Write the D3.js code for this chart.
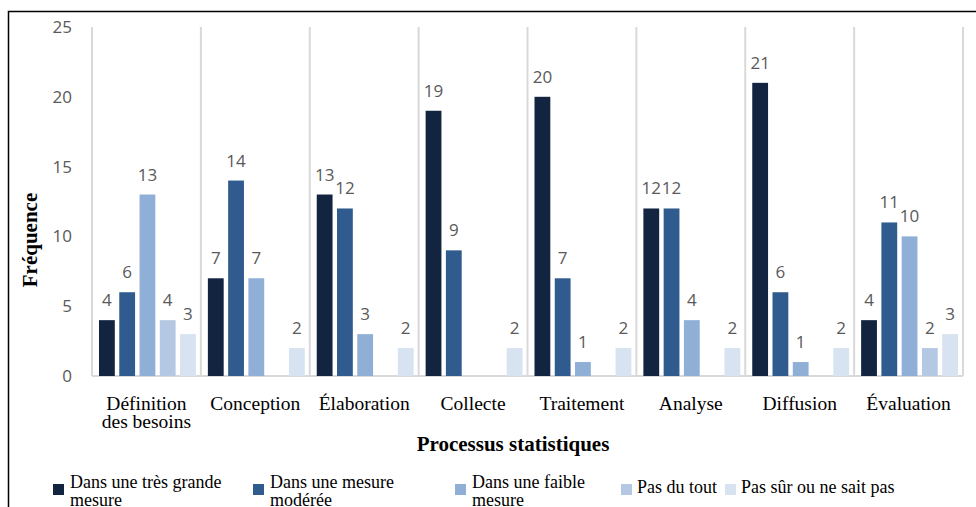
<!DOCTYPE html>
<html><head><meta charset="utf-8">
<script src="https://cdn.jsdelivr.net/npm/d3@7"></script>
<style>html,body{margin:0;padding:0;background:#fff;}svg{display:block;}</style>
</head><body>
<svg id="c" width="976" height="507"></svg>
<script>
const categories = [["Définition","des besoins"],["Conception"],["Élaboration"],["Collecte"],["Traitement"],["Analyse"],["Diffusion"],["Évaluation"]];
const seriesNames = [["Dans une très grande","mesure"],["Dans une mesure","modérée"],["Dans une faible","mesure"],["Pas du tout"],["Pas sûr ou ne sait pas"]];
const s1 = [4,7,13,19,20,12,21,4];
const s2 = [6,14,12,9,7,12,6,11];
const s3 = [13,7,3,0,1,4,1,10];
const s4 = [4,0,0,0,0,0,0,2];
const s5 = [3,2,2,2,2,2,2,3];
const yTicks = [0,5,10,15,20,25];
const colors = ["#12243f","#2f5b8e","#8fafd7","#b4c8e3","#d8e3f1"];

const allSeries = [s1,s2,s3,s4,s5];
const svg = d3.select("#c");
const catKeys = categories.map((c,i)=>i);
const x0 = d3.scaleBand().domain(catKeys).range([92,963]);
const x1 = d3.scaleBand().domain(d3.range(5)).range([7, x0.bandwidth()-5]).paddingInner(0.22);
const y = d3.scaleLinear().domain([0,25]).range([376,27]);

// frame
svg.append("path").attr("d","M8.5,507 L8.5,11.5 L976,11.5").attr("fill","none").attr("stroke","#000").attr("stroke-width",1.5);

// vertical gridlines
const bounds = catKeys.map(k=>x0(k)).concat([x0.range()[1]]);
svg.selectAll("line.g").data(bounds).join("line")
  .attr("x1",d=>d).attr("x2",d=>d).attr("y1",y(25)).attr("y2",y(0))
  .attr("stroke","#d9d9d9").attr("stroke-width",2);
// baseline
svg.append("line").attr("x1",92).attr("x2",963).attr("y1",y(0)).attr("y2",y(0)).attr("stroke","#d9d9d9").attr("stroke-width",2);

// y tick labels
svg.selectAll("text.yt").data(yTicks).join("text")
  .attr("x",72).attr("y",d=>y(d)).attr("dy","0.35em").attr("text-anchor","end")
  .attr("font-family","Open Sans, sans-serif").attr("font-size",17).attr("fill","#595959").text(d=>d);

// bars
const groups = svg.selectAll("g.cat").data(catKeys).join("g").attr("transform",k=>`translate(${x0(k)},0)`);
groups.each(function(k){
  const g = d3.select(this);
  const vals = allSeries.map((s,i)=>({i, v:s[k]}));
  g.selectAll("rect").data(vals.filter(d=>d.v>0)).join("rect")
    .attr("x",d=>x1(d.i)).attr("width",x1.bandwidth())
    .attr("y",d=>y(d.v)).attr("height",d=>y(0)-y(d.v))
    .attr("fill",d=>colors[d.i]);
  g.selectAll("text").data(vals.filter(d=>d.v>0)).join("text")
    .attr("x",d=>x1(d.i)+x1.bandwidth()/2).attr("y",d=>y(d.v)-14)
    .attr("text-anchor","middle").attr("font-family","Open Sans, sans-serif").attr("font-size",17)
    .attr("fill","#595959").text(d=>d.v);
});

// category labels
svg.selectAll("text.cl").data(catKeys).join("text")
  .attr("x",k=>x0(k)+x0.bandwidth()/2).attr("y",410).attr("text-anchor","middle")
  .attr("font-family","Liberation Serif, Times New Roman, serif").attr("font-size",19.5).attr("fill","#000")
  .each(function(k){
    const t = d3.select(this);
    categories[k].forEach((line,j)=>{
      t.append("tspan").attr("x",x0(k)+x0.bandwidth()/2).attr("dy",j===0?0:18).text(line);
    });
  });

// axis titles
svg.append("text").attr("x",513).attr("y",451).attr("text-anchor","middle")
  .attr("font-family","Liberation Serif, Times New Roman, serif").attr("font-size",21).attr("font-weight","bold").text("Processus statistiques");
svg.append("text").attr("transform","translate(37,240) rotate(-90)").attr("text-anchor","middle")
  .attr("font-family","Liberation Serif, Times New Roman, serif").attr("font-size",21).attr("font-weight","bold").text("Fréquence");

// legend
const legX = [53,253,455,621,725];
const legG = svg.selectAll("g.leg").data(d3.range(5)).join("g").attr("transform",i=>`translate(${legX[i]},0)`);
legG.append("rect").attr("x",0).attr("y",484).attr("width",11).attr("height",11).attr("fill",i=>colors[i]);
legG.append("text").attr("font-family","Liberation Serif, Times New Roman, serif").attr("font-size",18).attr("fill","#000")
  .each(function(i){
    const t = d3.select(this);
    const lines = seriesNames[i];
    const y0 = lines.length>1 ? 488 : 493;
    lines.forEach((line,j)=>{
      t.append("tspan").attr("x",i>=3?16:17).attr("y",y0+j*17.5).text(line);
    });
  });
</script>
</body></html>
